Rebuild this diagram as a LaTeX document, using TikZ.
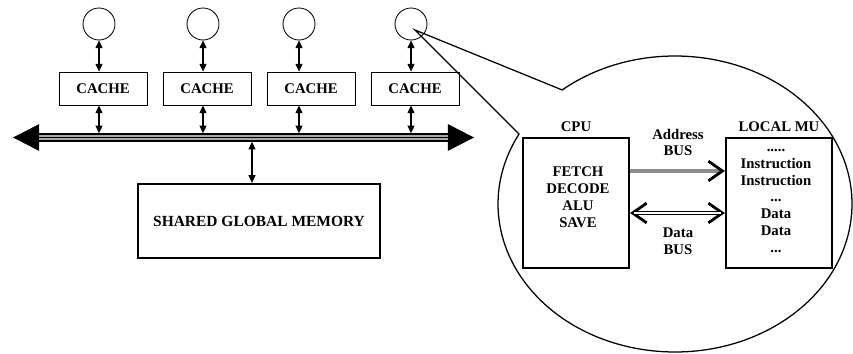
\documentclass[tikz,border=0pt]{standalone}
\usepackage{fontspec}
\setmainfont{Liberation Serif}
\usetikzlibrary{arrows.meta}
\usetikzlibrary{calc}
\usetikzlibrary{positioning}

\tikzset{
	cpunode/.style={draw,circle,line width=0.6pt,minimum size=0.8cm,inner sep=0pt},
	cachebox/.style={draw,line width=0.6pt,minimum width=2.2cm,minimum height=0.825cm,font=\fontsize{10.5}{12}\selectfont\bfseries},
	bigbox/.style={draw,line width=1.6pt,minimum width=2.65cm,minimum height=3.25cm},
	txt/.style={font=\fontsize{10.5}{12}\selectfont\bfseries,align=center,inner sep=0pt},
	link/.style={line width=0.8pt,{Triangle[length=5.5pt,width=5pt]}-{Triangle[length=5.5pt,width=5pt]}},
	busline/.style={line width=6pt,{Triangle[length=18.5pt,width=19pt,line width=0pt]}-{Triangle[length=18.5pt,width=19pt,line width=0pt]}},
	barb/.tip={Straight Barb[length=10pt,width=14pt,line width=2pt,color=black]},
	addr/.style={gray!90,line width=2.8pt,-barb},
	dbus/.style={line width=2.2pt,barb-barb}
}

\begin{document}
\begin{tikzpicture}
\useasboundingbox (0,0) rectangle (21.325,8.825);
\coordinate (busL) at (0.325,5.3875);
\coordinate (busR) at (11.85,5.3875);
	\draw[busline] (busL) -- (busR);
	\draw[gray!70,line width=4.2pt,shorten <=18.5pt,shorten >=18.5pt] (busL) -- (busR);
	\draw[line width=0.8pt,shorten <=18.5pt,shorten >=18.5pt] (busL) -- (busR);
\foreach \i/\px/\kx in {1/2.475/2.575,2/5.075/5.175,3/7.475/7.775,4/10.275/10.375} {
	\node[cpunode] (p\i) at (\px,8.225) {};
	\node[cachebox] (k\i) at (\kx,6.6125) {CACHE};
	\draw[link] (p\i) -- (p\i |- k\i.north);
	\draw[link,shorten >=3pt] (p\i |- k\i.south) -- (p\i |- busL);
}
\node[draw,line width=1.6pt,minimum width=6.05cm,minimum height=1.85cm,font=\fontsize{11}{13}\selectfont\bfseries] (mem) at (6.475,3.3) {SHARED GLOBAL MEMORY};
\coordinate (tap) at (6.3,5.3875);
	\draw[link,shorten <=3pt] (tap) -- (tap |- mem.north);
\coordinate (bub) at (16.875,3.725);
\coordinate (tip) at (10.375,8.075);
	\draw[line width=0.9pt] (tip) -- ($(bub)+(129.6:4.425 and 3.7)$) arc[start angle=129.6,end angle=-208.2,x radius=4.425,y radius=3.7] -- cycle;
\node[bigbox] (cpu) at (14.4,3.75) {};
\node[txt] (cputxt) at (14.45,3.8875) {FETCH\\DECODE\\ALU\\SAVE};
\node[txt,above=0.13cm of cpu] (cpulbl) {CPU};
\node[bigbox] (mu) at (19.475,3.75) {};
\node[txt] (mutxt) at (19.4,3.8) {.....\\Instruction\\Instruction\\...\\Data\\Data\\...};
\node[txt,above=0.13cm of mu] (mulbl) {LOCAL MU};
\node[txt] (adrlbl) at (16.95,5.2625) {Address\\BUS};
\node[txt] (datlbl) at (16.95,2.7875) {Data\\BUS};
	\draw[addr] ([yshift=0.8cm]cpu.east) -- ([yshift=0.8cm]mu.west);
	\draw[dbus] ([yshift=-0.25cm]cpu.east) -- ([yshift=-0.25cm]mu.west);
	\draw[white,line width=0.8pt,shorten <=3pt,shorten >=3pt] ([yshift=-0.25cm]cpu.east) -- ([yshift=-0.25cm]mu.west);
\end{tikzpicture}
\end{document}
